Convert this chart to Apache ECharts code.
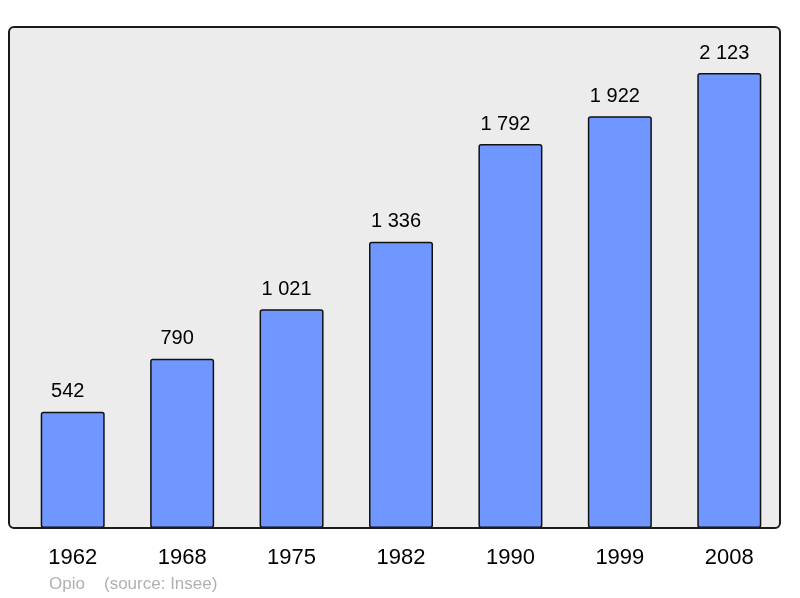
<!DOCTYPE html>
<html>
<head>
<meta charset="utf-8">
<script src="https://cdn.jsdelivr.net/npm/echarts@6/dist/echarts.min.js"></script>
<style>
  html, body { margin: 0; padding: 0; background: #fff; }
  #chart { width: 800px; height: 598px; }
</style>
</head>
<body>
<div id="chart"></div>
<script>
// years and population counts
var years = ['1962', '1968', '1975', '1982', '1990', '1999', '2008'];
var population = [542, 790, 1021, 1336, 1792, 1922, 2123];
var townName = 'Opio';
var sourceText = '(source: Insee)';

// thousands with a space, like "1 336"
function fmt(v) {
  return String(v).replace(/\B(?=(\d{3})+(?!\d))/g, ' ');
}

var myChart = echarts.init(document.getElementById('chart'));
myChart.setOption({
  backgroundColor: '#fff',
  animation: false,
  textStyle: { fontFamily: 'Liberation Sans, Arial, sans-serif' },
  title: [{
    text: townName,
    left: 49,
    top: 576,
    padding: 0,
    textStyle: { color: '#b0b0b0', fontSize: 17, fontWeight: 'normal' }
  }, {
    text: sourceText,
    left: 104,
    top: 576,
    padding: 0,
    textStyle: { color: '#b0b0b0', fontSize: 17, fontWeight: 'normal' }
  }],
  graphic: [{
    type: 'rect',
    z: -10,
    shape: { x: 9, y: 27, width: 771, height: 501, r: 5 },
    style: { fill: '#ececec', stroke: 'none' }
  }, {
    type: 'rect',
    z: 100,
    shape: { x: 9, y: 27, width: 771, height: 501, r: 5 },
    style: { fill: 'none', stroke: '#1a1a1a', lineWidth: 2 }
  }],
  grid: {
    left: 18,
    width: 766,
    top: 27,
    bottom: 70,
    containLabel: false
  },
  xAxis: {
    type: 'category',
    data: years,
    axisLine: { show: false },
    axisTick: { show: false },
    axisLabel: { color: '#000', fontSize: 22, margin: 19 }
  },
  yAxis: {
    type: 'value',
    min: 0,
    max: 2338,
    show: false,
    splitLine: { show: false }
  },
  series: [{
    type: 'bar',
    data: population,
    barWidth: 64,
    itemStyle: {
      color: '#7097ff',
      borderColor: '#111',
      borderWidth: 1.5,
      borderRadius: 2
    },
    label: {
      show: true,
      position: 'top',
      distance: 10,
      offset: [-5, 0],
      color: '#000',
      fontSize: 20,
      formatter: function (p) { return fmt(p.value); }
    }
  }]
});
</script>
</body>
</html>
